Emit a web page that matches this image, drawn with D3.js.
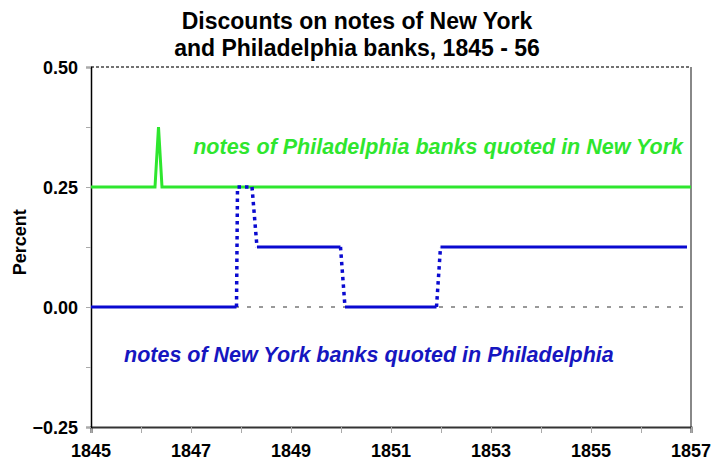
<!DOCTYPE html>
<html><head><meta charset="utf-8">
<script src="https://cdn.jsdelivr.net/npm/d3@7"></script>
<style>body{margin:0;background:#fff}svg{display:block}text{font-family:"Liberation Sans",Arial,sans-serif}</style>
</head><body><div id="chart"></div>
<script>
// ---- data ----
const titleLines = ["Discounts on notes of New York", "and Philadelphia banks, 1845 - 56"];
const xTickYears = [1845, 1847, 1849, 1851, 1853, 1855, 1857];
const xMinorYears = [1845,1846,1847,1848,1849,1850,1851,1852,1853,1854,1855,1856,1857];
const yTickValues = [0.50, 0.25, 0.00, -0.25];
const yMinorValues = [0.5, 0.375, 0.25, 0.125, 0, -0.125, -0.25];
// Philadelphia notes quoted in New York (green)
const greenYears  = [1845, 1846.28, 1846.35, 1846.42, 1857];
const greenValues = [0.25, 0.25, 0.375, 0.25, 0.25];
// New York notes quoted in Philadelphia (blue); segment styles between consecutive points
const blueYears  = [1845, 1847.91, 1847.93, 1848.22, 1848.32, 1849.99, 1850.08, 1851.91, 1851.99, 1856.92];
const blueValues = [0, 0, 0.25, 0.25, 0.125, 0.125, 0, 0, 0.125, 0.125];
const blueSegStyle = ["solid","dotted","dotted","dotted","solid","dotted","solid","dotted","solid"];
const greenLabel = "notes of Philadelphia banks quoted in New York";
const blueLabel = "notes of New York banks quoted in Philadelphia";

// ---- layout ----
const W = 712, H = 466;
const m = {left: 91, right: 21, top: 67, bottom: 39};
const svg = d3.select("#chart").append("svg").attr("width", W).attr("height", H);
const x = d3.scaleLinear().domain([1845, 1857]).range([m.left, W - m.right]);
const y = d3.scaleLinear().domain([-0.25, 0.5]).range([H - m.bottom, m.top]);

// title
svg.append("g").selectAll("text").data(titleLines).join("text")
  .attr("x", 357).attr("y", (d, i) => 29 + i * 27)
  .attr("text-anchor", "middle").attr("font-size", 23).attr("font-weight", "bold")
  .attr("fill", "#000").text(d => d);

// zero line
svg.append("line").attr("x1", x(1845)).attr("x2", x(1857)).attr("y1", y(0)).attr("y2", y(0))
  .attr("stroke", "#999").attr("stroke-width", 2).attr("stroke-dasharray", "4,8");

// frame
svg.append("line").attr("x1", x(1845)).attr("x2", x(1857)).attr("y1", y(0.5)).attr("y2", y(0.5))
  .attr("stroke", "#444").attr("stroke-width", 1.5).attr("stroke-dasharray", "3,2");
svg.append("line").attr("x1", x(1857)).attr("x2", x(1857)).attr("y1", y(0.5)).attr("y2", y(-0.25))
  .attr("stroke", "#888").attr("stroke-width", 2);

// x axis
const xAxis = svg.append("g").attr("transform", `translate(0,${y(-0.25)})`)
  .call(d3.axisBottom(x).tickValues(xMinorYears).tickSize(6).tickFormat(""));
xAxis.select(".domain").attr("stroke", "#333").attr("stroke-width", 2);
xAxis.selectAll(".tick line").attr("stroke", "#aaa");
svg.append("g").selectAll("text").data(xTickYears).join("text")
  .attr("x", d => x(d)).attr("y", H - m.bottom + 30).attr("text-anchor", "middle")
  .attr("font-size", 18).attr("font-weight", "bold").text(d => d);

// y axis
const yAxis = svg.append("g").attr("transform", `translate(${x(1845)},0)`)
  .call(d3.axisLeft(y).tickValues(yMinorValues).tickSize(5).tickFormat(""));
yAxis.select(".domain").attr("stroke", "#000").attr("stroke-width", 1.5);
yAxis.selectAll(".tick line").attr("stroke", "#aaa");
svg.append("g").selectAll("text").data(yTickValues).join("text")
  .attr("x", 78).attr("y", d => y(d) + 6.5).attr("text-anchor", "end")
  .attr("font-size", 18).attr("font-weight", "bold").text(d => d3.format(".2f")(d));
svg.append("text").attr("transform", `translate(26,${y(0.135)}) rotate(-90)`)
  .attr("text-anchor", "middle").attr("font-size", 18).attr("font-weight", "bold").text("Percent");

// lines
const line = d3.line().x(d => x(d[0])).y(d => y(d[1]));
const green = greenYears.map((d, i) => [d, greenValues[i]]);
svg.append("path").attr("d", line(green)).attr("fill", "none")
  .attr("stroke", "#2ee62e").attr("stroke-width", 3).attr("stroke-linejoin", "miter");

const blue = blueYears.map((d, i) => [d, blueValues[i]]);
blueSegStyle.forEach((s, i) => {
  svg.append("path").attr("d", line([blue[i], blue[i + 1]])).attr("fill", "none")
    .attr("stroke", "#0a0ad0").attr("stroke-width", s === "solid" ? 3 : 3.5)
    .attr("stroke-dasharray", s === "solid" ? null : "3.5,4");
});

// labels
svg.append("text").attr("x", 683).attr("y", 154).attr("text-anchor", "end")
  .attr("font-size", 21.5).attr("font-weight", "bold").attr("font-style", "italic")
  .attr("fill", "#2ee62e").text(greenLabel);
svg.append("text").attr("x", 124).attr("y", 362).attr("text-anchor", "start")
  .attr("font-size", 21.5).attr("font-weight", "bold").attr("font-style", "italic")
  .attr("fill", "#1616c0").text(blueLabel);
</script></body></html>
